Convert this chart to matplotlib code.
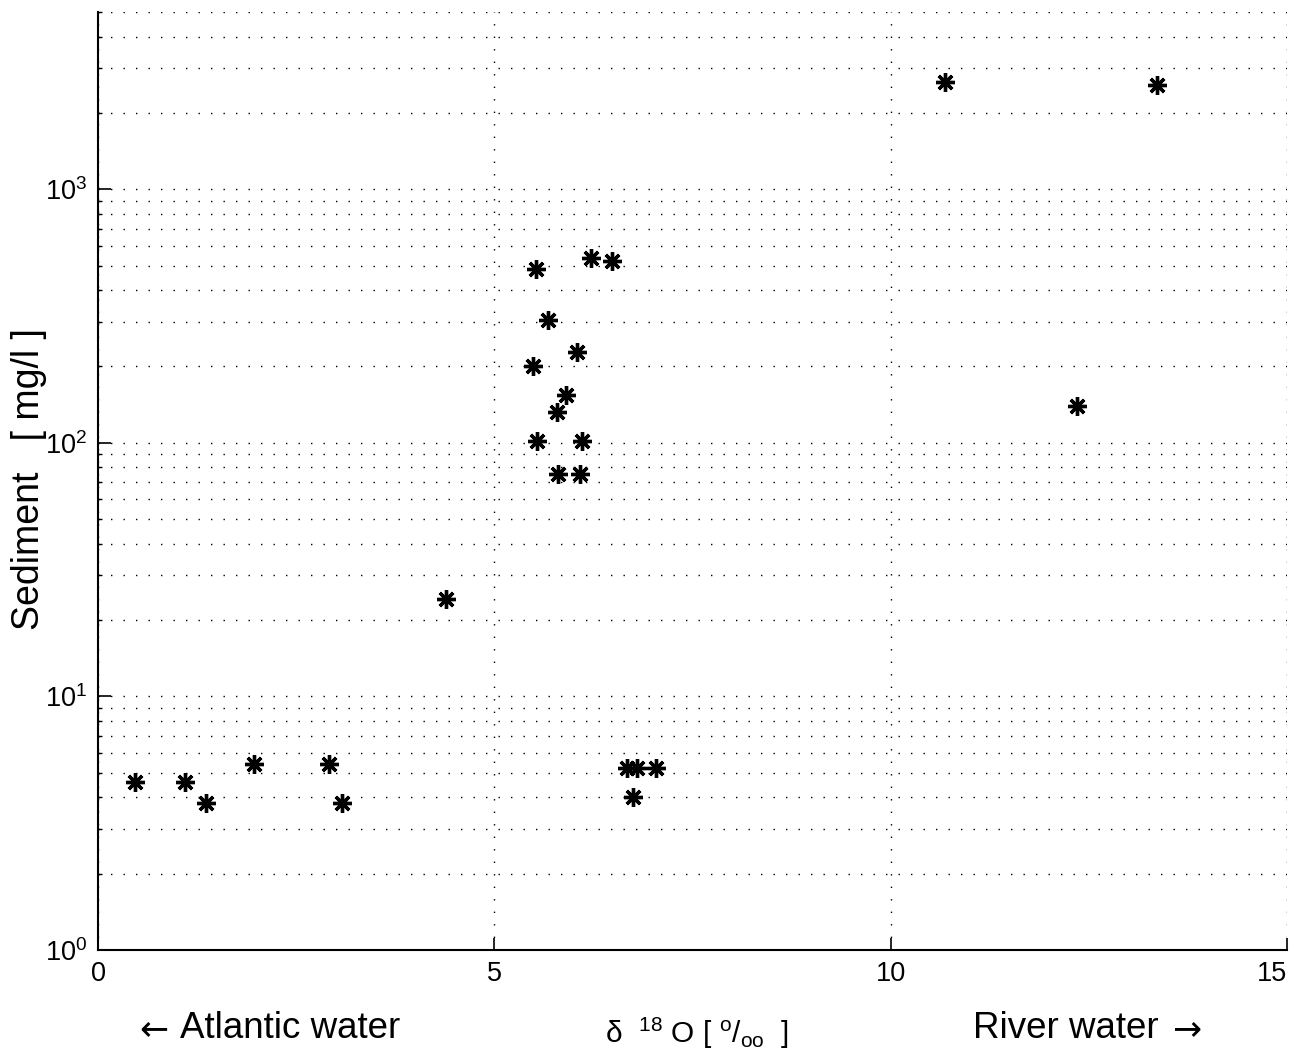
import matplotlib
matplotlib.use("Agg")
import matplotlib.pyplot as plt
from matplotlib.ticker import LogLocator, NullFormatter

plt.rcParams['font.family'] = ['Liberation Sans', 'DejaVu Sans']
plt.rcParams['mathtext.fontset'] = 'custom'
plt.rcParams['mathtext.rm'] = 'Liberation Sans'
plt.rcParams['mathtext.it'] = 'Liberation Sans'
plt.rcParams['mathtext.default'] = 'regular'

# delta 18O values and sediment concentration (mg/l)
d18o = [0.47, 1.10, 1.36, 1.97, 2.91, 3.08, 4.39,
        5.53, 5.68, 5.49, 5.54, 5.79, 5.90, 5.80, 6.04, 6.11, 6.08, 6.22, 6.48,
        6.67, 6.80, 6.75, 7.04,
        10.69, 13.36, 12.35]
sediment = [4.6, 4.6, 3.8, 5.4, 5.4, 3.8, 24.3,
            484, 305, 201, 102, 132, 154, 75.5, 228, 102, 75.5, 535, 521,
            5.2, 5.2, 4.0, 5.2,
            2637, 2567, 140]

xticks = [0, 5, 10, 15]

fig = plt.figure(figsize=(12.97, 10.61), dpi=100)
ax = fig.add_axes([0.0756, 0.1046, 0.9167, 0.8841])

ax.semilogy(d18o, sediment, linestyle='none', marker=(8, 2, 0),
            markersize=13.5, markeredgewidth=2.4, color='black')

ax.set_xlim(0, 15)
ax.set_ylim(1, 5000)
ax.set_xticks(xticks)
ax.yaxis.set_major_locator(LogLocator(base=10, numticks=10))
ax.yaxis.set_minor_locator(LogLocator(base=10, subs=range(2, 10), numticks=50))
ax.yaxis.set_minor_formatter(NullFormatter())

gs = dict(color='black', linestyle=(0, (1, 8)), linewidth=1.0)
ax.grid(True, which='major', axis='x', **gs)
ax.grid(True, which='both', axis='y', **gs)

ax.spines['top'].set_visible(False)
ax.spines['right'].set_visible(False)
ax.spines['left'].set_linewidth(1.5)
ax.spines['bottom'].set_linewidth(1.5)
ax.tick_params(which='major', direction='in', length=9, width=1.2, labelsize=19.5, pad=8)
ax.tick_params(which='minor', direction='in', length=3, width=1.0)
ax.get_xticklabels()[-1].set_horizontalalignment('right')

ax.set_ylabel('Sediment   [ mg/l ]', fontsize=27)
ax.yaxis.set_label_coords(-0.043, 0.502)

# annotations below the x axis
ty = 0.0217
fig.text(0.1295, 0.030, '\u2190', family='DejaVu Sans', fontsize=25,
         ha='right', va='center')
fig.text(0.1388, ty, 'Atlantic water', fontsize=26.5, ha='left', va='baseline')
fig.text(0.4665, 0.0170, r'$\delta\ \ ^{18}\ O\ [\ ^{o}/_{oo}\ \ ]$', fontsize=21.5,
         ha='left', va='baseline')
fig.text(0.7502, ty, 'River water', fontsize=26.5, ha='left', va='baseline')
fig.text(0.9036, 0.030, '\u2192', family='DejaVu Sans', fontsize=25,
         ha='left', va='center')

fig.savefig('out.png', dpi=100)
